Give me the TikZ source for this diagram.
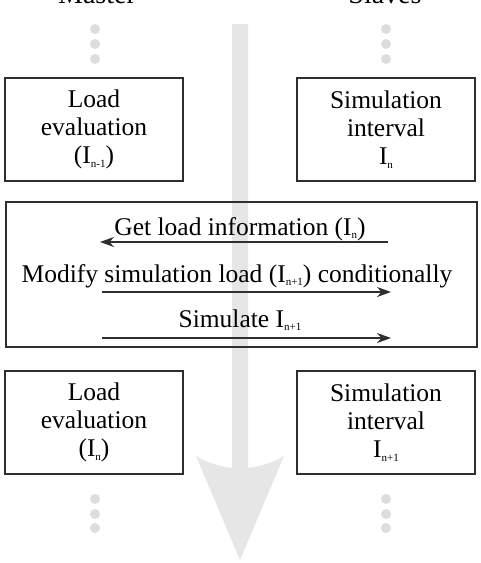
\documentclass[tikz,border=0pt]{standalone}
\usepackage{fontspec}
\setmainfont{Liberation Serif}
\usetikzlibrary{arrows.meta}
\newcommand\mysub[1]{\raisebox{-3.5pt}{\fontsize{11}{11}\selectfont #1}}
\definecolor{bordergray}{HTML}{2E2E2E}
\definecolor{arrowgray}{HTML}{E6E6E6}
\definecolor{dotgray}{HTML}{DDDDDD}
\begin{document}
\begin{tikzpicture}[x=1pt,y=-1pt,
  box/.style={draw=bordergray,line width=2pt,minimum width=178pt,minimum height=103pt,
    align=center,inner sep=0pt,font=\fontsize{25.5}{28}\selectfont},
  lbl/.style={anchor=base,inner sep=0pt,font=\fontsize{25.5}{28}\selectfont},
  msg/.style={draw=bordergray,line width=1.8pt,-{Stealth[length=14pt,width=10pt]}},
  dot/.style={circle,fill=dotgray,minimum size=10pt,inner sep=0pt}]
\useasboundingbox (0,0) rectangle (480,563);
% central time arrow
\fill[arrowgray] (232,24) -- (248,24) -- (248,468)
  .. controls (262,466) and (275,462) .. (284,456) -- (240,560) -- (196,456)
  .. controls (205,462) and (218,466) .. (232,468) -- cycle;
% column titles
\node[lbl,font=\fontsize{28}{30}\selectfont] (master) at (97,3) {Master};
\node[lbl,font=\fontsize{28}{30}\selectfont] (slaves) at (385,3) {Slaves};
% dots
\foreach \x/\n in {95/l,386/r}{
  \foreach \y/\m in {29/a,44/b,59/c,499/d,514/e,528/f}{
    \node[dot] (dot\n\m) at (\x,\y) {};
  }
}
% boxes
\node[box] (le1) at (94,129.5) {Load\\evaluation\\(I\mysub{n-1})};
\node[box] (si1) at (386,129.5) {Simulation\\interval\\I\mysub{n}};
\node[draw=bordergray,line width=2pt,minimum width=471pt,minimum height=145pt,inner sep=0pt] (mid) at (241,274.5) {};
\node[box] (le2) at (94,422.5) {Load\\evaluation\\(I\mysub{n})};
\node[box] (si2) at (386,422.5) {Simulation\\interval\\I\mysub{n+1}};
% messages
\node[lbl] (t1) at (240,235) {Get load information (I\mysub{n})};
\node[lbl] (t2) at (237,282) {Modify simulation load (I\mysub{n+1}) conditionally};
\node[lbl] (t3) at (240,327) {Simulate I\mysub{n+1}};
\coordinate (a1s) at (388,242); \coordinate (a1e) at (100,242);
\coordinate (a2s) at (102,292); \coordinate (a2e) at (391,292);
\coordinate (a3s) at (102,338); \coordinate (a3e) at (391,338);
\draw[msg] (a1s) -- (a1e);
\draw[msg] (a2s) -- (a2e);
\draw[msg] (a3s) -- (a3e);
\end{tikzpicture}
\end{document}
